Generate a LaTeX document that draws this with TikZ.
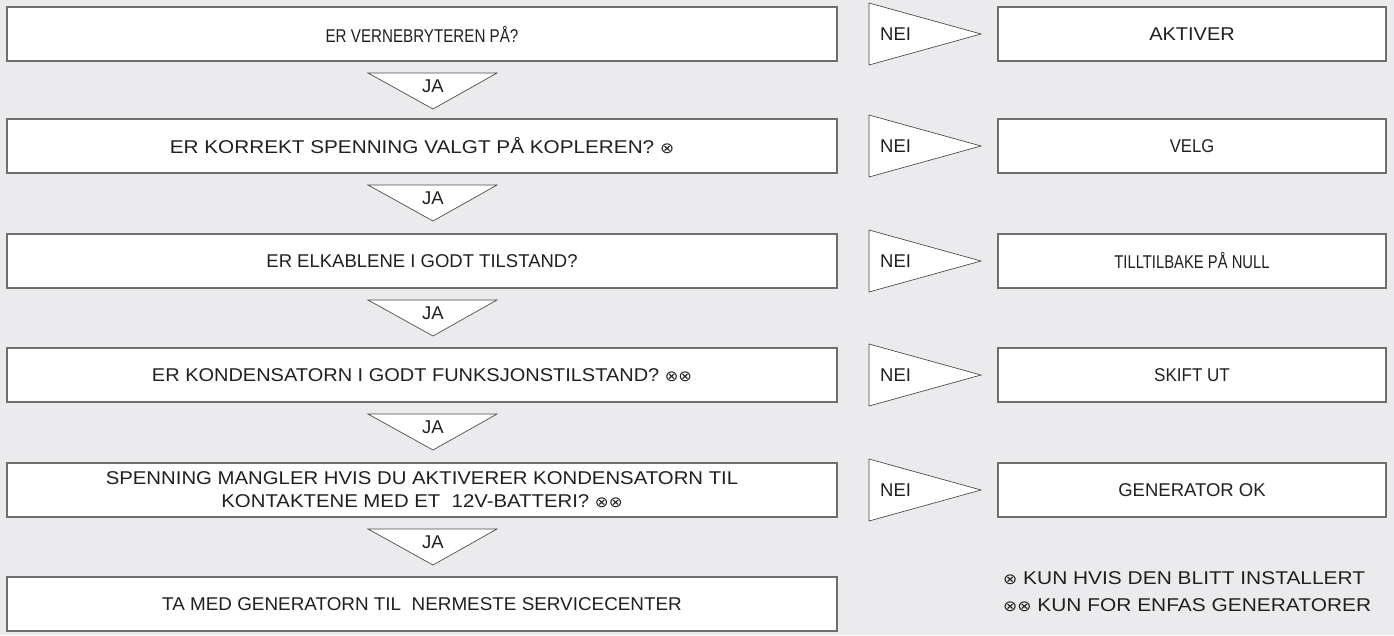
\documentclass[tikz,border=0pt]{standalone}
\usepackage{fontspec}
\usepackage{graphicx}
\setmainfont{Liberation Sans}
\newfontfamily\symfont{DejaVu Sans}
\definecolor{bg}{HTML}{EBEBED}
\definecolor{edge}{HTML}{6E6E6E}
\definecolor{ink}{HTML}{231F20}
\newcommand{\otm}{{\symfont\fontsize{15}{15}\selectfont ⊗}}
\newcommand{\hs}[2]{\scalebox{#1}[1]{#2}}
\begin{document}
\begin{tikzpicture}[x=1pt,y=-1pt,
  txt/.style={text=ink, font=\fontsize{18.5}{23}\selectfont},
  lbox/.style={txt, draw=edge, line width=1.3pt, fill=white, align=center, inner sep=0pt, minimum width=830pt, minimum height=54pt},
  rbox/.style={txt, draw=edge, line width=1.3pt, fill=white, align=center, inner sep=0pt, minimum width=388pt, minimum height=54pt},
  tri/.style={draw=ink!80, line width=0.7pt, fill=white},
  lbl/.style={txt, inner sep=0pt}]
\fill[bg] (0,0) rectangle (1394,635);
\useasboundingbox (0,0) rectangle (1394,635);

% question boxes (left)
\node[lbox] (q1) at (422,34)  {\hs{0.82}{ER VERNEBRYTEREN PÅ?}};
\node[lbox] (q2) at (422,146) {\hs{1.12}{ER KORREKT SPENNING VALGT PÅ KOPLEREN? \otm}};
\node[lbox] (q3) at (422,261) {ER ELKABLENE I GODT TILSTAND?};
\node[lbox] (q4) at (422,375) {\hs{1.08}{ER KONDENSATORN I GODT FUNKSJONSTILSTAND? \otm\otm}};
\node[lbox] (q5) at (422,490) {\hs{1.1}{SPENNING MANGLER HVIS DU AKTIVERER KONDENSATORN TIL}\\\hs{1.1}{KONTAKTENE MED ET\ \ 12V-BATTERI? \otm\otm}};
\node[lbox] (q6) at (422,604) {\hs{1.02}{TA MED GENERATORN TIL\ \ NERMESTE SERVICECENTER}};

% action boxes (right)
\node[rbox] (a1) at (1192,34)  {\hs{1.08}{AKTIVER}};
\node[rbox] (a2) at (1192,146) {\hs{0.9}{VELG}};
\node[rbox] (a3) at (1192,261) {\hs{0.8}{TILLTILBAKE PÅ NULL}};
\node[rbox] (a4) at (1192,375) {\hs{0.92}{SKIFT UT}};
\node[rbox] (a5) at (1192,490) {GENERATOR OK};

% JA triangles
\foreach \t/\n in {73/1,185/2,300/3,414/4,529/5}{
  \draw[tri] (368,\t) -- (497,\t) -- (433,\t+36) -- cycle;
  \node[lbl] (ja\n) at (433,\t+13) {JA};
}
% NEI triangles
\foreach \c/\n in {34/1,146/2,261/3,375/4,490/5}{
  \draw[tri] (869,\c-31) -- (981,\c) -- (869,\c+31) -- cycle;
  \node[lbl, anchor=west] (nei\n) at (880,\c) {NEI};
}

% footnotes
\node[txt, anchor=west, align=left, inner sep=0pt, font=\fontsize{18.5}{27}\selectfont] (notes) at (1003,592)
  {\hs{1.13}{\otm\ KUN HVIS DEN BLITT INSTALLERT}\\\hs{1.13}{\otm\otm\ KUN FOR ENFAS GENERATORER}};
\end{tikzpicture}
\end{document}
